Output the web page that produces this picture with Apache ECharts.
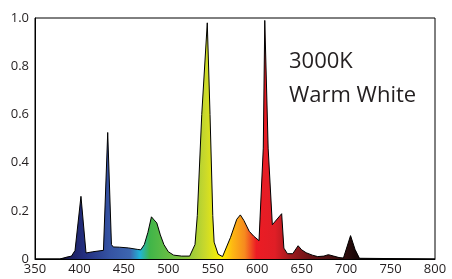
<!DOCTYPE html>
<html lang="en">
<head>
<meta charset="UTF-8">
<title>3000K Warm White Spectrum</title>
<script src="https://cdn.jsdelivr.net/npm/echarts@6/dist/echarts.min.js"></script>
<style>
    html, body { margin: 0; padding: 0; background: #fff; }
    #chart { width: 452px; height: 279px; }
</style>
</head>
<body>

<div id="chart"></div>

<script>
// wavelength (nm) and relative intensity
var wavelengths = [350, 378, 380, 386, 391, 395, 401.7, 407.4, 415, 427, 428.5, 431.8, 436, 438,
    445, 455, 465, 469, 473, 477, 481, 484, 487, 491, 495, 500, 506, 515, 524,
    530, 532.6, 537.6, 543.8, 546.9, 550, 551.5, 556, 561, 563, 570, 577, 581, 585, 591, 596,
    602, 603.5, 606.8, 608.5, 612.3, 617, 627.5, 630, 634, 640, 646, 650, 655, 662, 668,
    675, 680, 686, 692, 697, 705, 710, 715, 716, 800];
var intensity = [0, 0, 0.004, 0.008, 0.012, 0.035, 0.26, 0.025, 0.03, 0.036, 0.04, 0.525, 0.06, 0.05,
    0.049, 0.046, 0.04, 0.038, 0.06, 0.11, 0.175, 0.162, 0.15, 0.1, 0.06, 0.03, 0.016, 0.012, 0.012,
    0.06, 0.18, 0.6, 0.98, 0.6, 0.18, 0.07, 0.02, 0.01, 0.012, 0.09, 0.165, 0.183, 0.16, 0.115, 0.095,
    0.076, 0.08, 0.46, 0.99, 0.46, 0.142, 0.188, 0.045, 0.022, 0.022, 0.055, 0.038, 0.026, 0.016, 0.01,
    0.012, 0.018, 0.012, 0.006, 0.004, 0.097, 0.04, 0.003, 0, 0];

// spectrum colours used for the fill
var stopNm = [378, 389, 406, 434, 457, 468, 479, 521, 541, 560, 572, 586, 599, 620, 637, 659, 693, 710];
var stopColors = ['#0a0a1a', '#1e2060', '#232f80', '#3553a3', '#3d66b0', '#20b4d8', '#40b549', '#8dc63f',
    '#c8d82c', '#fff200', '#fdb813', '#f6891f', '#ec1c24', '#e01e26', '#a01a1e', '#6a1316', '#3a1010', '#1a0808'];

var xMin = 350, xMax = 800;

var chartDom = document.getElementById('chart');
var myChart = echarts.init(chartDom);

var points = wavelengths.map(function (w, i) { return [w, intensity[i]]; });
var colorStops = stopNm.map(function (w, i) {
    return { offset: (w - xMin) / (xMax - xMin), color: stopColors[i] };
});

var labelStyle = { color: '#231f20', fontSize: 13, fontFamily: 'Open Sans' };

var option = {
    animation: false,
    grid: {
        left: 35, right: 17, top: 18, bottom: 20,
        show: true, borderColor: '#000', borderWidth: 1
    },
    xAxis: {
        type: 'value',
        min: xMin, max: xMax, interval: 50,
        axisLine: { show: true, lineStyle: { color: '#000', width: 1 } },
        axisTick: { show: false },
        splitLine: { show: false },
        axisLabel: Object.assign({ margin: 4 }, labelStyle)
    },
    yAxis: {
        type: 'value',
        min: 0, max: 1, interval: 0.2,
        axisLine: { show: true, lineStyle: { color: '#000', width: 1 } },
        axisTick: { show: false },
        splitLine: { show: false },
        axisLabel: Object.assign({
            margin: 6,
            formatter: function (v) { return v === 0 ? '0' : v.toFixed(1); }
        }, labelStyle)
    },
    graphic: [{
        type: 'text',
        left: 289, top: 45,
        style: {
            text: '3000K\nWarm White',
            fontSize: 22, lineHeight: 34,
            fontFamily: 'Open Sans',
            fill: '#231f20'
        }
    }],
    series: [{
        type: 'line',
        data: points,
        symbol: 'none',
        lineStyle: { color: '#000', width: 1 },
        areaStyle: {
            opacity: 1,
            color: new echarts.graphic.LinearGradient(0, 0, 1, 0, colorStops)
        }
    }]
};

myChart.setOption(option);
</script>

</body>
</html>
